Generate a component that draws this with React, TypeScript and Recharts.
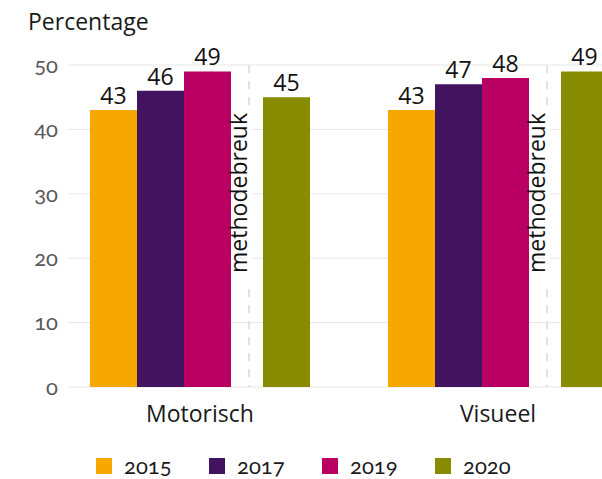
import React from 'react';
import { BarChart, Bar, XAxis, YAxis, CartesianGrid, LabelList, Legend } from 'recharts';

const categories = ['Motorisch', 'Visueel'];
const years = ['2015', '2017', '2019', '2020'];
const values2015 = [43, 43];
const values2017 = [46, 47];
const values2019 = [49, 48];
const values2020 = [45, 49];
const methodBreak = [true, true];
const yTicks = [0, 10, 20, 30, 40, 50];
const breakLabel = 'methodebreuk';
const yTitle = 'Percentage';
const colors = ['#f7a800', '#42145f', '#b90062', '#878c00'];

const yMax = yTicks[yTicks.length - 1];

const data = categories.map((c, i) => ({
  category: c,
  y2015: values2015[i],
  y2017: values2017[i],
  y2019: values2019[i],
  y2020: values2020[i],
  // the break marker spans the full value axis
  brk: methodBreak[i] ? yMax : null,
}));

const textFont = '"Open Sans", sans-serif';
const numFont = 'Lato, sans-serif';

const BreakShape = (props: any) => {
  const { x, y, width, height } = props;
  if (x == null || isNaN(x) || y == null || isNaN(y)) return <g />;
  const cx = x + width / 2 + 2;
  const ty = y + 48;
  return (
    <g>
      <line x1={cx} x2={cx} y1={y} y2={y + height} stroke="#d9d9d9" strokeWidth={1.5} strokeDasharray="8 8" />
      <rect x={cx - 3} y={ty - 2} width={6} height={170} fill="#ffffff" />
      <text
        x={cx - 2}
        y={ty}
        transform={`rotate(-90, ${cx - 2}, ${ty})`}
        textAnchor="end"
        fontFamily={textFont}
        fontSize={23}
        fill="#111"
      >
        {breakLabel}
      </text>
    </g>
  );
};

const renderLegend = (props: any) => {
  const payload = (props.payload || []).filter((p: any) => p.type !== 'none');
  return (
    <div style={{ display: 'flex', paddingLeft: 96, paddingTop: 20, paddingBottom: 0 }}>
      {payload.map((p: any) => (
        <div key={p.value} style={{ width: 113, display: 'flex', alignItems: 'center' }}>
          <span style={{ display: 'inline-block', width: 16, height: 16, background: p.color, marginRight: 12 }} />
          <span
            style={{
              fontFamily: numFont,
              fontSize: 22,
              lineHeight: '26px',
              color: '#1a1a1a',
              fontVariantNumeric: 'oldstyle-nums',
              fontFeatureSettings: '"onum" 1',
            }}
          >
            {p.value}
          </span>
        </div>
      ))}
    </div>
  );
};

const valueLabelProps = {
  position: 'top' as const,
  offset: 6,
  fill: '#111',
  fontSize: 23,
  fontFamily: textFont,
};

export default function App() {
  return (
    <div style={{ position: 'fixed', left: 0, top: 0, width: 602, height: 479, overflow: 'hidden', background: '#fff' }}>
      <BarChart
        width={647}
        height={479}
        data={data}
        margin={{ top: 65, right: 0, left: 0, bottom: 0 }}
        barGap={0}
      >
        <CartesianGrid vertical={false} stroke="#e6e6e6" strokeWidth={1} />
        <XAxis
          dataKey="category"
          padding={{ left: -17, right: 0 }}
          axisLine={false}
          tickLine={false}
          tickSize={0}
          tickMargin={19}
          height={46}
          interval={0}
          tick={{ fill: '#1a1a1a', fontSize: 23, fontFamily: textFont }}
        />
        <YAxis
          width={68}
          domain={[0, yMax]}
          ticks={yTicks}
          axisLine={false}
          tickLine={false}
          tickSize={0}
          tickMargin={10}
          tick={{
            fill: '#595959',
            fontSize: 22,
            fontFamily: numFont,
            style: { fontVariantNumeric: 'oldstyle-nums', fontFeatureSettings: '"onum" 1' },
          }}
          label={{
            content: (lp: any) => {
              const vb = lp.viewBox || { x: 0, y: 65 };
              return (
                <text x={vb.x + 28} y={vb.y - 35} fontFamily={textFont} fontSize={23} fill="#1a1a1a">
                  {yTitle}
                </text>
              );
            },
          }}
        />
        <Legend
          verticalAlign="bottom"
          content={renderLegend}
          wrapperStyle={{ left: 0, width: 602 }}
        />
        <Bar dataKey="y2015" name={years[0]} fill={colors[0]} barSize={47} isAnimationActive={false}>
          <LabelList dataKey="y2015" {...valueLabelProps} />
        </Bar>
        <Bar dataKey="y2017" name={years[1]} fill={colors[1]} barSize={47} isAnimationActive={false}>
          <LabelList dataKey="y2017" {...valueLabelProps} />
        </Bar>
        <Bar dataKey="y2019" name={years[2]} fill={colors[2]} barSize={47} isAnimationActive={false}>
          <LabelList dataKey="y2019" {...valueLabelProps} />
        </Bar>
        <Bar
          dataKey="brk"
          name={breakLabel}
          legendType="none"
          fill="none"
          barSize={32}
          shape={<BreakShape />}
          isAnimationActive={false}
        />
        <Bar dataKey="y2020" name={years[3]} fill={colors[3]} barSize={47} isAnimationActive={false}>
          <LabelList dataKey="y2020" {...valueLabelProps} />
        </Bar>
      </BarChart>
    </div>
  );
}
